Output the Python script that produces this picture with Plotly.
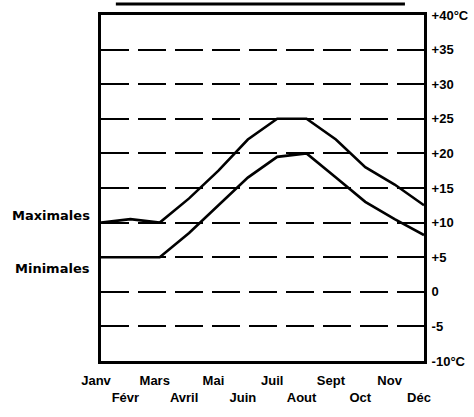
import plotly.graph_objects as go

months = ["Janv", "Févr", "Mars", "Avril", "Mai", "Juin", "Juil", "Aout", "Sept", "Oct", "Nov", "Déc"]
month_pos = list(range(1, 13))
maximales = [10, 10.5, 10, 13.5, 17.5, 22, 25, 25, 22, 18, 15.5, 12.5]
minimales = [5, 5, 5, 8.5, 12.5, 16.5, 19.5, 20, 16.5, 13, 10.5, 8.2]
temp_ticks = [-10, -5, 0, 5, 10, 15, 20, 25, 30, 35, 40]
temp_labels = ["-10°C", "-5", "0", "+5", "+10", "+15", "+20", "+25", "+30", "+35", "+40°C"]

# staggered month labels: odd months on first row, even months on second row
month_text = [m if i % 2 == 0 else "<br>" + m for i, m in enumerate(months)]

fig = go.Figure()
fig.add_trace(go.Scatter(x=month_pos, y=maximales, mode="lines", name="Maximales",
                         line=dict(color="black", width=2.6)))
fig.add_trace(go.Scatter(x=month_pos, y=minimales, mode="lines", name="Minimales",
                         line=dict(color="black", width=2.6)))

fig.update_layout(
    width=474, height=417,
    margin=dict(l=101, r=50, t=15, b=56, autoexpand=False),
    paper_bgcolor="white", plot_bgcolor="white",
    showlegend=False,
    font=dict(family="Liberation Sans, Arial, sans-serif", color="black"),
)
fig.update_xaxes(
    range=[1, 12], tickvals=month_pos, ticktext=month_text, tickangle=0,
    showgrid=False, zeroline=False, ticks="", automargin=False,
    showline=True, linecolor="black", linewidth=3, mirror=True,
    tickfont=dict(size=13, family="Liberation Sans, Arial, sans-serif", color="black", weight="bold"),
    ticklabelshift=-5, ticklabelstandoff=5,
)
fig.update_yaxes(
    range=[-10, 40], side="right", tickvals=temp_ticks, ticktext=temp_labels,
    showgrid=True, gridcolor="black", gridwidth=2, griddash="28px,9px",
    zeroline=False, ticks="", automargin=False,
    showline=True, linecolor="black", linewidth=3, mirror=True,
    tickfont=dict(size=13, family="Liberation Sans, Arial, sans-serif", color="black", weight="bold"),
    ticklabelstandoff=2,
)

# series labels on the left
for txt, yv in [("Maximales", 11), ("Minimales", 3.3)]:
    fig.add_annotation(text=txt, xref="paper", yref="y", x=0, y=yv, xanchor="right",
                       yanchor="middle", xshift=-9, showarrow=False,
                       font=dict(size=13, family="DejaVu Sans, sans-serif", color="black", weight="bold"))

# clipped title underline at the top
fig.add_shape(type="line", xref="paper", yref="paper", x0=0.046, x1=0.941, y0=1.032, y1=1.032,
              line=dict(color="black", width=3))

fig.write_html("out.html", config={"displayModeBar": False},
               post_script="document.body.style.margin='0px';")
